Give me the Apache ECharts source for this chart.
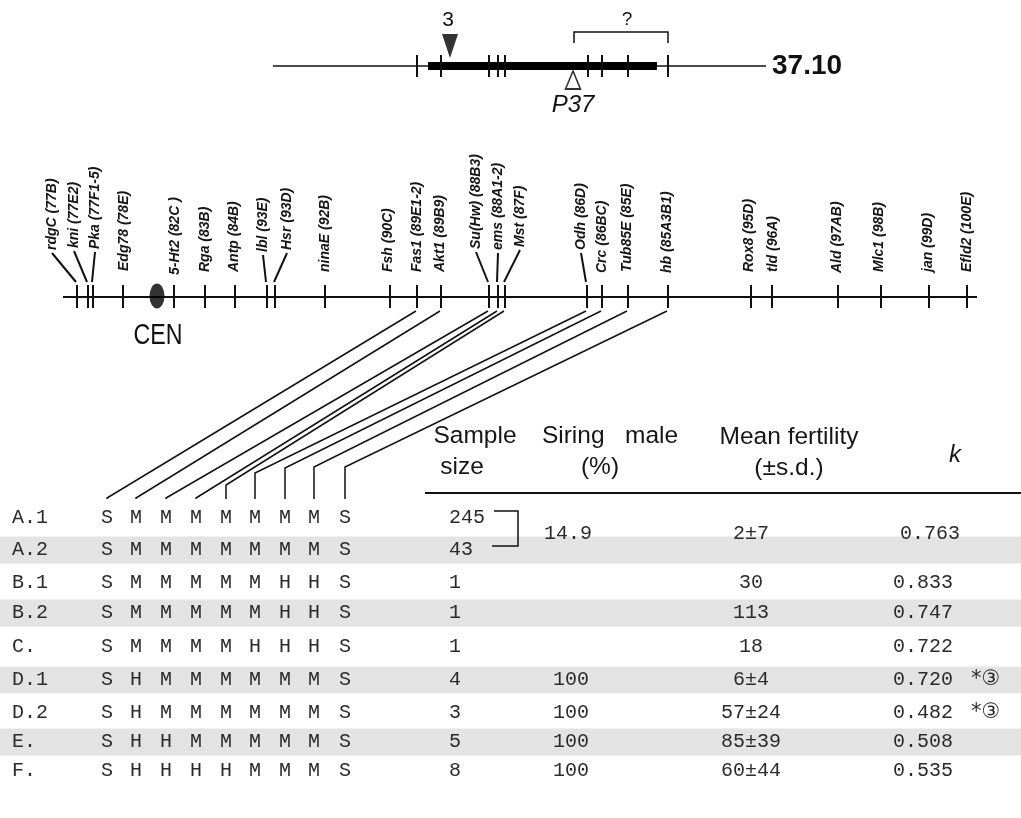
<!DOCTYPE html>
<html><head><meta charset="utf-8">
<script src="https://cdn.jsdelivr.net/npm/echarts@6/dist/echarts.min.js"></script>
<style>html,body{margin:0;padding:0;background:#fff}#c{width:1021px;height:818px}</style>
</head><body><div id="c"></div>
<script>
// ================= DATA =================
// Chromosome 3 genes (name, map position along the drawn chromosome)
const geneNames = ['rdgC (77B)','kni (77E2)','Pka (77F1-5)','Edg78 (78E)','5-Ht2 (82C )','Rga (83B)','Antp (84B)','lbl (93E)','Hsr (93D)','ninaE (92B)','Fsh (90C)','Fas1 (89E1-2)','Akt1 (89B9)','Su(Hw) (88B3)','ems (88A1-2)','Mst (87F)','Odh (86D)','Crc (86BC)','Tub85E (85E)','hb (85A3B1)','Rox8 (95D)','tld (96A)','Ald (97AB)','Mlc1 (98B)','jan (99D)','Efld2 (100E)'];
const geneMapPos = [77,88,93,123,174,205,235,267,275,325,390,417,441,489,498,505,587,602,628,668,751,772,838,881,929,967];
const geneLabelPos = [52,74,95,124,175,205,234,263,287,325,388,417,440,476,498,520,581,602,627,667,749,773,837,879,928,967];
const geneLabelBase = [250,248,249,271,275,272,272,252,250,272,272,272,272,249,250,247,250,273,272,273,272,272,273,272,272,272];
const chromosomeSpan = [63, 977];
const centromerePos = 157;

// Line 37.10 map
const line37Span = [273, 766];
const line37Bar = [428, 657];
const line37Ticks = [417,441,489,498,505,588,602,628,668];
const insertion3Pos = 450;
const insertionP37Pos = 573;
const unknownSpan = [574, 668];

// Genes compared in the table (in column order)
const comparedGenes = ['Fas1 (89E1-2)','Akt1 (89B9)','Su(Hw) (88B3)','ems (88A1-2)','Mst (87F)','Odh (86D)','Crc (86BC)','Tub85E (85E)','hb (85A3B1)'];

// Table
const rowLabels = ['A.1','A.2','B.1','B.2','C.','D.1','D.2','E.','F.'];
const genotypes = ['SMMMMMMMS','SMMMMMMMS','SMMMMMHHS','SMMMMMHHS','SMMMMHHHS','SHMMMMMMS','SHMMMMMMS','SHHMMMMMS','SHHHHMMMS'];
const sampleSizes = ['245','43','1','1','1','4','3','5','8'];
const siringMale = ['14.9','','','','','100','100','100','100'];   // A.1+A.2 pooled
const meanFertility = ['2±7','','30','113','18','6±4','57±24','85±39','60±44'];
const kValues = ['0.763','','0.833','0.747','0.722','0.720','0.482','0.508','0.535'];
const notes = ['','','','','','*③','*③','',''];
const pooledRows = [0, 1];
const headers = ['Sample','size','Siring   male','(%)','Mean fertility','(±s.d.)','k'];

// ================= LAYOUT =================
const chromY = 297;
const mapY = 66;
const columnX = [107,136,166,196,226,255,285,314,345];
const bendY = [498,498,498,498,485,473,468,467,467];
const rowY = [518,550,583,613,647,680,713,742,771];
const pooledY = 534;
const headerPos = [[475,436],[462,467],[610,436],[600,467],[789,437],[789,468],[955,455]];

const SANS = '"Liberation Sans", Arial, sans-serif';
const MONO = '"Liberation Mono", "DejaVu Sans Mono", monospace';
const INK = '#111';
const TINK = '#2b2b2b';

// ================= HELPERS =================
function textSeries(points, texts, style, z, rotation, scaleX) {
  return {
    type: 'custom', coordinateSystem: 'cartesian2d', silent: true, clip: false, z: z || 5,
    data: points,
    renderItem: function (params, api) {
      const p = api.coord([api.value(0), api.value(1)]);
      return { type: 'text', x: p[0], y: p[1], rotation: rotation || 0, scaleX: scaleX || 1,
        style: Object.assign({ text: texts[params.dataIndex], fill: INK, fontFamily: SANS, fontSize: 14,
          align: 'center', verticalAlign: 'middle' }, style) };
    }
  };
}
function polySeries(items, lw, color, z) {
  // items: flat arrays [x1,y1,x2,y2,...] of equal length within one series
  const len = Math.max.apply(null, items.map(a => a.length));
  const dims = []; for (let i = 0; i < len; i++) dims.push('d' + i);
  return {
    type: 'custom', coordinateSystem: 'cartesian2d', silent: true, clip: false, z: z || 3,
    dimensions: dims,
    encode: { x: 0, y: 1 },
    data: items,
    renderItem: function (params, api) {
      const it = items[params.dataIndex], pts = [];
      for (let i = 0; i < it.length / 2; i++) pts.push(api.coord([it[2 * i], it[2 * i + 1]]));
      return { type: 'polyline', shape: { points: pts }, style: { stroke: color || INK, lineWidth: lw, fill: null } };
    }
  };
}

// ================= BUILD SERIES =================
const series = [];

// --- chromosome 3 ---
series.push(polySeries([[chromosomeSpan[0], chromY, chromosomeSpan[1], chromY]], 2));
series.push(polySeries(geneMapPos.map(x => [x, chromY - 12, x, chromY + 11]), 2));
const leaders = [];
geneMapPos.forEach((x, i) => {
  if (geneLabelBase[i] < 262) leaders.push([x - 1, chromY - 15, geneLabelPos[i], geneLabelBase[i] + 3]);
});
series.push(polySeries(leaders, 2));
series.push(textSeries(geneLabelPos.map((x, i) => [x, geneLabelBase[i]]), geneNames,
  { fontSize: 14, fontStyle: 'italic', fontWeight: 'bold', align: 'left', verticalAlign: 'middle', fill: '#151515' }, 6, Math.PI / 2));
series.push({ type: 'scatter', silent: true, z: 7, symbol: 'circle', symbolSize: [15, 25],
  itemStyle: { color: '#000' }, data: [[centromerePos, chromY - 1]] });
series.push(textSeries([[centromerePos + 1, 336]], ['CEN'], { fontSize: 29, fill: '#111' }, 5, 0, 0.8));

// --- line 37.10 ---
series.push(polySeries([[line37Span[0], mapY, line37Span[1], mapY]], 1.5));
series.push(polySeries([[line37Bar[0], mapY, line37Bar[1], mapY]], 8, '#000'));
series.push(polySeries(line37Ticks.map(x => [x, mapY - 11, x, mapY + 11]), 2));
series.push({ type: 'scatter', silent: true, z: 7, symbol: 'triangle', symbolRotate: 180, symbolSize: [16, 24],
  itemStyle: { color: '#000' }, data: [[insertion3Pos, 46]] });
series.push({ type: 'scatter', silent: true, z: 7, symbol: 'triangle', symbolSize: [15, 18],
  itemStyle: { color: '#fff', borderColor: '#000', borderWidth: 1.6 }, data: [[insertionP37Pos, 80]] });
series.push(polySeries([[unknownSpan[0], 43, unknownSpan[0], 32, unknownSpan[1], 32, unknownSpan[1], 43]], 1.5));
series.push(textSeries([[insertion3Pos - 2, 20]], ['3'], { fontSize: 21 }));
series.push(textSeries([[(unknownSpan[0] + unknownSpan[1]) / 2 + 6, 20]], ['?'], { fontSize: 19 }));
series.push(textSeries([[insertionP37Pos, 105]], ['P37'], { fontSize: 24, fontStyle: 'italic' }));
series.push(textSeries([[line37Span[1] + 6, mapY]], ['37.10'], { fontSize: 28, fontWeight: 'bold', align: 'left' }));

// --- links from compared genes to table columns ---
const links = comparedGenes.map((g, c) => {
  const x = geneMapPos[geneNames.indexOf(g)];
  return [x - 1, chromY + 14, columnX[c], bendY[c], columnX[c], 499];
});
series.push(polySeries(links, 1.5));

// --- table ---
series.push({
  type: 'custom', coordinateSystem: 'cartesian2d', silent: true, clip: false, z: 1,
  data: [1, 3, 5, 7].map(r => [0, rowY[r]]),
  renderItem: function (params, api) {
    const a = api.coord([0, api.value(1) - 13.5]), b = api.coord([1021, api.value(1) + 13.5]);
    return { type: 'rect', shape: { x: a[0], y: a[1], width: b[0] - a[0], height: b[1] - a[1] }, style: { fill: '#e3e3e3' } };
  }
});
series.push(textSeries(headerPos.slice(0, 6), headers.slice(0, 6), { fontSize: 24.5, fill: '#161616' }));
series.push(textSeries([headerPos[6]], [headers[6]], { fontSize: 24, fontStyle: 'italic', fill: '#161616' }));
series.push(polySeries([[425, 493, 1021, 493]], 2));
const monoStyle = { fontFamily: MONO, fontSize: 20, fill: TINK, align: 'left' };
series.push(textSeries(rowY.map(y => [12, y]), rowLabels, monoStyle));
const letterPts = [], letterTxt = [];
genotypes.forEach((g, r) => g.split('').forEach((ch, c) => { letterPts.push([columnX[c], rowY[r]]); letterTxt.push(ch); }));
series.push(textSeries(letterPts, letterTxt, Object.assign({}, monoStyle, { align: 'center' })));
series.push(textSeries(rowY.map(y => [449, y]), sampleSizes, monoStyle));
series.push(polySeries([[494, 511, 518, 511, 518, 546, 492, 546]], 1.5));
function colPts(arr) {
  const pts = [], txt = [];
  arr.forEach((v, r) => { if (!v) return; pts.push(pooledRows.includes(r) ? pooledY : rowY[r]); txt.push(v); });
  return [pts, txt];
}
let cp = colPts(siringMale);
series.push(textSeries(cp[0].map((y, i) => [i === 0 ? 544 : 553, y]), cp[1], monoStyle));
cp = colPts(meanFertility);
series.push(textSeries(cp[0].map(y => [751, y]), cp[1], Object.assign({}, monoStyle, { align: 'center' })));
cp = colPts(kValues);
series.push(textSeries(cp[0].map((y, i) => [i === 0 ? 900 : 893, y]), cp[1], monoStyle));
cp = colPts(notes);
series.push(textSeries(cp[0].map(y => [971, y]), cp[1], Object.assign({}, monoStyle, { fontFamily: '"DejaVu Sans", sans-serif', fontSize: 21 })));

const chart = echarts.init(document.getElementById('c'));
chart.setOption({
  animation: false,
  backgroundColor: '#fff',
  grid: { left: 0, right: 0, top: 0, bottom: 0 },
  xAxis: { type: 'value', min: 0, max: 1021, show: false },
  yAxis: { type: 'value', min: 0, max: 818, inverse: true, show: false },
  series: series
});
</script></body></html>
